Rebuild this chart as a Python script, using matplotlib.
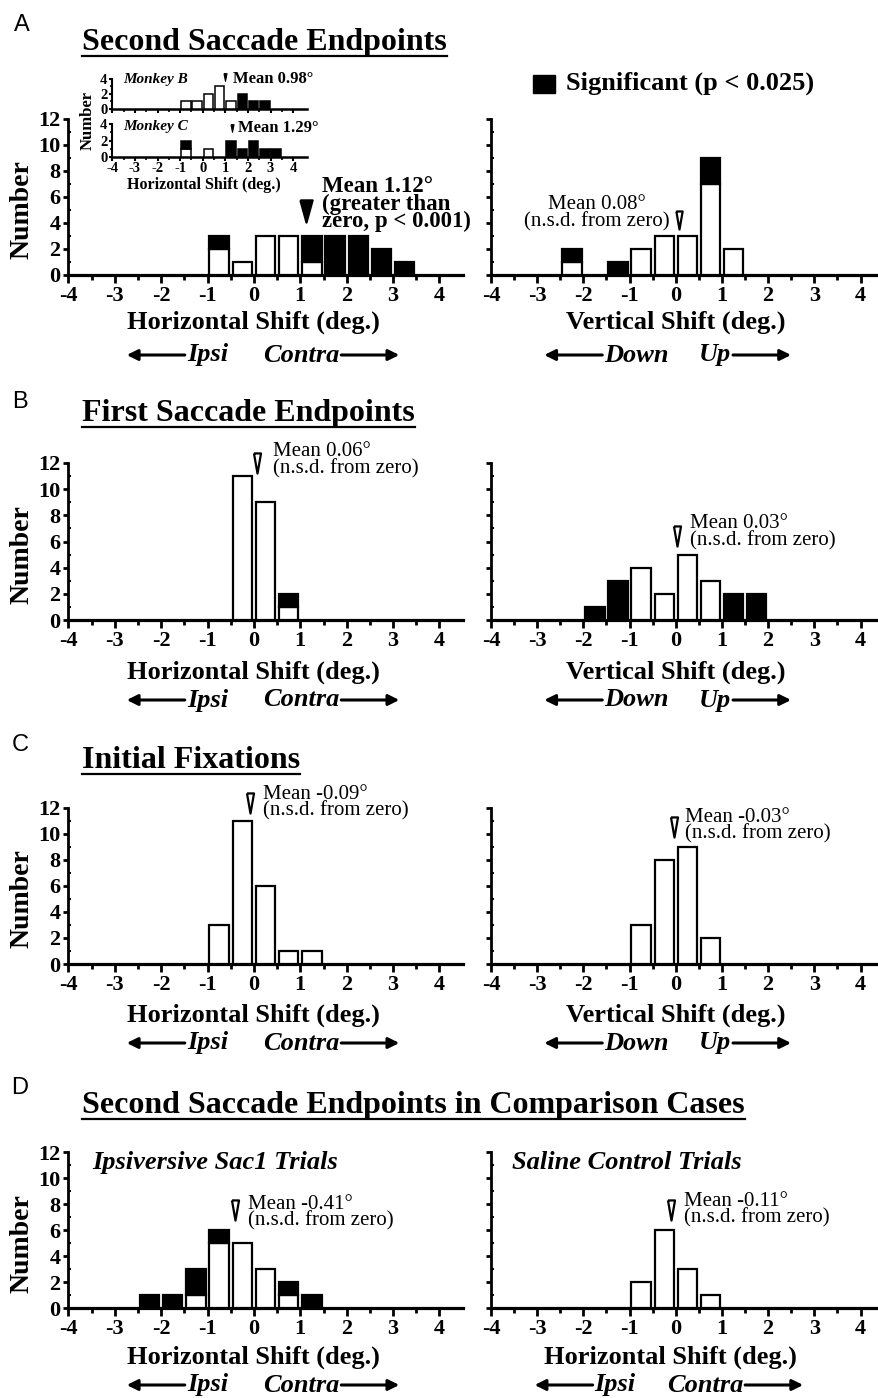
import numpy as np
import matplotlib
matplotlib.use("Agg")
import matplotlib.pyplot as plt
from matplotlib.patches import Rectangle, FancyArrowPatch
from matplotlib.lines import Line2D

plt.rcParams['font.family'] = ['Liberation Serif', 'DejaVu Serif']
plt.rcParams['axes.unicode_minus'] = False

# ---- data (bin centres, 0.5 deg bins; counts split into n.s. / significant) ----
A_h_x = [-0.75, -0.25, 0.25, 0.75, 1.25, 1.75, 2.25, 2.75, 3.25]
A_h_ns = [2, 1, 3, 3, 1, 0, 0, 0, 0]
A_h_sig = [1, 0, 0, 0, 2, 3, 3, 2, 1]

A_v_x = [-2.25, -1.25, -0.75, -0.25, 0.25, 0.75, 1.25]
A_v_ns = [1, 0, 2, 3, 3, 7, 2]
A_v_sig = [1, 1, 0, 0, 0, 2, 0]

monkB_x = [-0.75, -0.25, 0.25, 0.75, 1.25, 1.75, 2.25, 2.75]
monkB_ns = [1, 1, 2, 3, 1, 0, 0, 0]
monkB_sig = [0, 0, 0, 0, 0, 2, 1, 1]

monkC_x = [-0.75, 0.25, 1.25, 1.75, 2.25, 2.75, 3.25]
monkC_ns = [1, 1, 0, 0, 0, 0, 0]
monkC_sig = [1, 0, 2, 1, 2, 1, 1]

B_h_x = [-0.25, 0.25, 0.75]
B_h_ns = [11, 9, 1]
B_h_sig = [0, 0, 1]

B_v_x = [-1.75, -1.25, -0.75, -0.25, 0.25, 0.75, 1.25, 1.75]
B_v_ns = [0, 0, 4, 2, 5, 3, 0, 0]
B_v_sig = [1, 3, 0, 0, 0, 0, 2, 2]

C_h_x = [-0.75, -0.25, 0.25, 0.75, 1.25]
C_h_ns = [3, 11, 6, 1, 1]
C_h_sig = [0, 0, 0, 0, 0]

C_v_x = [-0.75, -0.25, 0.25, 0.75]
C_v_ns = [3, 8, 9, 2]
C_v_sig = [0, 0, 0, 0]

D_ips_x = [-2.25, -1.75, -1.25, -0.75, -0.25, 0.25, 0.75, 1.25]
D_ips_ns = [0, 0, 1, 5, 5, 3, 1, 0]
D_ips_sig = [1, 1, 2, 1, 0, 0, 1, 1]

D_sal_x = [-0.75, -0.25, 0.25, 0.75]
D_sal_ns = [2, 6, 3, 1]
D_sal_sig = [0, 0, 0, 0]

means = {'A_h': 1.12, 'A_v': 0.08, 'B_h': 0.06, 'B_v': 0.03, 'C_h': -0.09,
         'C_v': -0.03, 'D_ips': -0.41, 'D_sal': -0.11, 'monkB': 0.98, 'monkC': 1.29}

W, H = 879, 1398
fig = plt.figure(figsize=(W / 100, H / 100), dpi=100)


def fx(x):
    return x / W


def fy(y):
    return 1 - y / H


def axes_px(left, top, right, bottom):
    return fig.add_axes([fx(left), fy(bottom), (right - left) / W, (bottom - top) / H])


def bars(ax, x, ns, sig, w=0.42, lw=1.6):
    x = np.array(x, float)
    ns = np.array(ns, float)
    sig = np.array(sig, float)
    m = ns > 0
    ax.bar(x[m], ns[m], width=w, color='white', edgecolor='black', linewidth=lw, zorder=3)
    m = sig > 0
    ax.bar(x[m], sig[m], width=w, bottom=ns[m], color='black', edgecolor='black',
           linewidth=lw, zorder=3)


def style(ax, xmax, ylabels=True):
    ax.set_xlim(-4, xmax)
    ax.set_ylim(0, 12)
    ax.set_facecolor('none')
    for s in ['top', 'right']:
        ax.spines[s].set_visible(False)
    ax.spines['left'].set_linewidth(2)
    ax.spines['bottom'].set_linewidth(2.3)
    ax.set_xticks(range(-4, 5))
    ax.set_xticks(np.arange(-3.5, 4.5, 1), minor=True)
    ax.set_yticks(range(0, 13, 2))
    ax.set_yticks(range(1, 12, 2), minor=True)
    ax.tick_params(axis='x', which='major', direction='out', length=6, width=2, pad=2)
    ax.tick_params(axis='x', which='minor', direction='out', length=3.5, width=2)
    ax.tick_params(axis='y', which='major', direction='out', length=3.5, width=2, pad=2)
    ax.tick_params(axis='y', which='minor', direction='in', length=2.5, width=1.5)
    for lab in ax.get_xticklabels() + ax.get_yticklabels():
        lab.set_fontweight('bold')
        lab.set_fontsize(16)
    if not ylabels:
        ax.set_yticklabels([])


def mean_marker(ax, x, y, filled=False, size=14.5, half=0.35, inset=False):
    verts = [(-half, 1), (half, 1), (0, -1), (-half, 1)]
    ax.plot([x], [y], marker=verts, markersize=size, mfc='black' if filled else 'white',
            mec='black', mew=0.8 if inset else 1.6, clip_on=False, zorder=6)


def mean_text(ax, x, y, txt, ha='left', ma='left'):
    ax.text(x, y, txt, ha=ha, va='center', ma=ma, fontsize=15,
            linespacing=0.82, clip_on=False, zorder=6)


rows = {'A': (119, 275), 'B': (463, 620), 'C': (807.7, 964), 'D': (1152.3, 1308.3)}
L_LEFT, L_RIGHT = 68.3, 462.7
R_LEFT, R_RIGHT = 491, 879
x0_left = L_LEFT + 4 * (L_RIGHT - L_LEFT) / 8.5
x0_right = R_LEFT + 4 * (R_RIGHT - R_LEFT) / 8.4

axL, axR = {}, {}
for k, (top, bot) in rows.items():
    axL[k] = axes_px(L_LEFT, top, L_RIGHT, bot)
    style(axL[k], 4.5, True)
    axR[k] = axes_px(R_LEFT, top, R_RIGHT, bot)
    style(axR[k], 4.4, False)
    fig.text(fx(22), fy((top + bot) / 2 + 13), 'Number', rotation=90, ha='center',
             va='center', fontsize=20, fontweight='bold')

# ---- bars ----
bars(axL['A'], A_h_x, A_h_ns, A_h_sig)
bars(axR['A'], A_v_x, A_v_ns, A_v_sig)
bars(axL['B'], B_h_x, B_h_ns, B_h_sig)
bars(axR['B'], B_v_x, B_v_ns, B_v_sig)
bars(axL['C'], C_h_x, C_h_ns, C_h_sig)
bars(axR['C'], C_v_x, C_v_ns, C_v_sig)
bars(axL['D'], D_ips_x, D_ips_ns, D_ips_sig)
bars(axR['D'], D_sal_x, D_sal_ns, D_sal_sig)

# ---- mean markers and notes ----
mean_marker(axL['A'], means['A_h'], 4.9, filled=True, size=16, half=0.55)
axL['A'].text(1.46, 5.45, 'Mean 1.12°\n(greater than\nzero, p < 0.001)', ha='left',
              va='center', fontsize=16.5, fontweight='bold', linespacing=0.78, zorder=6)
mean_marker(axR['A'], means['A_v'], 4.2, size=13)
mean_text(axR['A'], -0.14, 4.75, 'Mean 0.08°\n(n.s.d. from zero)', ha='right', ma='center')
mean_marker(axL['B'], means['B_h'], 12.0)
mean_text(axL['B'], 0.41, 12.2, 'Mean 0.06°\n(n.s.d. from zero)')
mean_marker(axR['B'], means['B_v'], 6.4)
mean_text(axR['B'], 0.31, 6.7, 'Mean 0.03°\n(n.s.d. from zero)')
mean_marker(axL['C'], means['C_h'], 12.35)
mean_text(axL['C'], 0.2, 12.4, 'Mean -0.09°\n(n.s.d. from zero)')
mean_marker(axR['C'], means['C_v'], 10.5)
mean_text(axR['C'], 0.2, 10.6, 'Mean -0.03°\n(n.s.d. from zero)')
mean_marker(axL['D'], means['D_ips'], 7.56)
mean_text(axL['D'], -0.13, 7.35, 'Mean -0.41°\n(n.s.d. from zero)')
mean_marker(axR['D'], means['D_sal'], 7.56)
mean_text(axR['D'], 0.18, 7.6, 'Mean -0.11°\n(n.s.d. from zero)')

axL['D'].text(-3.49, 11.2, 'Ipsiversive Sac1 Trials', fontsize=19, fontweight='bold',
              fontstyle='italic', va='center', ha='left')
axR['D'].text(-3.55, 11.25, 'Saline Control Trials', fontsize=19, fontweight='bold',
              fontstyle='italic', va='center', ha='left')

# ---- inset (individual monkeys) ----
insB = axes_px(112.3, 79, 306.7, 108.5)
insC = axes_px(112.3, 124, 306.7, 157)
for ax in (insB, insC):
    ax.set_xlim(-4, 4.6)
    ax.set_ylim(0, 4)
    ax.set_facecolor('none')
    ax.set_zorder(5)
    for s in ['top', 'right']:
        ax.spines[s].set_visible(False)
    ax.spines['left'].set_linewidth(1.5)
    ax.spines['bottom'].set_linewidth(1.8)
    ax.set_xticks(range(-4, 5))
    ax.set_xticks(np.arange(-3.5, 4.5, 1), minor=True)
    ax.set_yticks([0, 2, 4])
    ax.set_yticks([1, 3], minor=True)
    ax.tick_params(axis='x', which='major', direction='out', length=3, width=1.5, pad=0.5)
    ax.tick_params(axis='x', which='minor', direction='out', length=2, width=1.2)
    ax.tick_params(axis='y', which='major', direction='out', length=2.5, width=1.5, pad=1)
    ax.tick_params(axis='y', which='minor', direction='out', length=1.5, width=1.2)
    for lab in ax.get_xticklabels() + ax.get_yticklabels():
        lab.set_fontweight('bold')
        lab.set_fontsize(10.5)
insB.set_xticklabels([])
bars(insB, monkB_x, monkB_ns, monkB_sig, w=0.42, lw=1.1)
bars(insC, monkC_x, monkC_ns, monkC_sig, w=0.42, lw=1.1)
insB.text(-3.53, 3.9, 'Monkey B', fontsize=11, fontweight='bold', fontstyle='italic',
          va='center', ha='left')
insC.text(-3.53, 3.7, 'Monkey C', fontsize=11, fontweight='bold', fontstyle='italic',
          va='center', ha='left')
mean_marker(insB, means['monkB'], 4.3, filled=True, size=5.5, half=0.4, inset=True)
insB.text(1.34, 4.05, 'Mean 0.98°', fontsize=12, fontweight='bold', va='center',
          ha='left', clip_on=False)
mean_marker(insC, means['monkC'], 3.5, filled=True, size=5.5, half=0.4, inset=True)
insC.text(1.57, 3.55, 'Mean 1.29°', fontsize=12, fontweight='bold', va='center',
          ha='left', clip_on=False)
fig.text(fx(88), fy(121), 'Number', rotation=90, ha='center', va='center', fontsize=12,
         fontweight='bold')
fig.text(fx(204), fy(185), 'Horizontal Shift (deg.)', ha='center', va='center',
         fontsize=11.5, fontweight='bold')

# ---- legend ----
fig.patches.append(Rectangle((fx(533), fy(93)), 22 / W, 18 / H, transform=fig.transFigure,
                             facecolor='black', edgecolor='black'))
fig.text(fx(566), fy(83), 'Significant (p < 0.025)', ha='left', va='center', fontsize=19,
         fontweight='bold')

# ---- panel letters and titles ----
letters = [('A', 22, 25), ('B', 20, 402), ('C', 20, 745), ('D', 20, 1088)]
for s, x, y in letters:
    fig.text(fx(x), fy(y), s, ha='center', va='center', fontsize=17,
             family='Liberation Sans')
titles = [('Second Saccade Endpoints', 82, 50), ('First Saccade Endpoints', 82, 421),
          ('Initial Fixations', 82, 768),
          ('Second Saccade Endpoints in Comparison Cases', 82, 1113)]
title_objs = []
for s, x, y in titles:
    title_objs.append((fig.text(fx(x), fy(y), s, ha='left', va='baseline', fontsize=23,
                                fontweight='bold'), y))

# ---- axis labels and direction arrows ----
xlab_y = {'A': 322, 'B': 672, 'C': 1015, 'D': 1357}
arr_y = {'A': 355, 'B': 700, 'C': 1043, 'D': 1385}
word_objs = []
for k in rows:
    fig.text(fx(x0_left), fy(xlab_y[k]), 'Horizontal Shift (deg.)', ha='center',
             va='center', fontsize=19, fontweight='bold')
    word_objs.append(fig.text(fx(x0_left - 26), fy(arr_y[k]), 'Ipsi', ha='right',
                              va='center', fontsize=19, fontweight='bold',
                              fontstyle='italic'))
    word_objs.append(fig.text(fx(x0_left + 9), fy(arr_y[k]), 'Contra', ha='left',
                              va='center', fontsize=19, fontweight='bold',
                              fontstyle='italic'))
    if k == 'D':
        rl, lw_, rw_ = 'Horizontal Shift (deg.)', 'Ipsi', 'Contra'
        off_l, off_r = -40, -9
    else:
        rl, lw_, rw_ = 'Vertical Shift (deg.)', 'Down', 'Up'
        off_l, off_r = -7, 23
    fig.text(fx(x0_right - (5 if k == 'D' else 0)), fy(xlab_y[k]), rl, ha='center',
             va='center', fontsize=19, fontweight='bold')
    word_objs.append(fig.text(fx(x0_right + off_l), fy(arr_y[k]), lw_, ha='right',
                              va='center', fontsize=19, fontweight='bold',
                              fontstyle='italic'))
    word_objs.append(fig.text(fx(x0_right + off_r), fy(arr_y[k]), rw_, ha='left',
                              va='center', fontsize=19, fontweight='bold',
                              fontstyle='italic'))

fig.canvas.draw()
r = fig.canvas.get_renderer()
for t, y in title_objs:
    bb = t.get_window_extent(r)
    fig.add_artist(Line2D([bb.x0 / W, bb.x1 / W], [fy(y + 6), fy(y + 6)],
                          transform=fig.transFigure, color='black', lw=1.6))
for i, t in enumerate(word_objs):
    bb = t.get_window_extent(r)
    yc = (bb.y0 + bb.y1) / 2 / H
    if i % 2 == 0:
        p0, p1 = (bb.x0 - 2) / W, (bb.x0 - 60) / W
    else:
        p0, p1 = (bb.x1 + 2) / W, (bb.x1 + 60) / W
    fig.add_artist(FancyArrowPatch((p0, yc), (p1, yc), transform=fig.transFigure,
                                   arrowstyle='-|>', mutation_scale=16, lw=2.2,
                                   color='black', shrinkA=0, shrinkB=0))

fig.savefig('out.png', dpi=100)
